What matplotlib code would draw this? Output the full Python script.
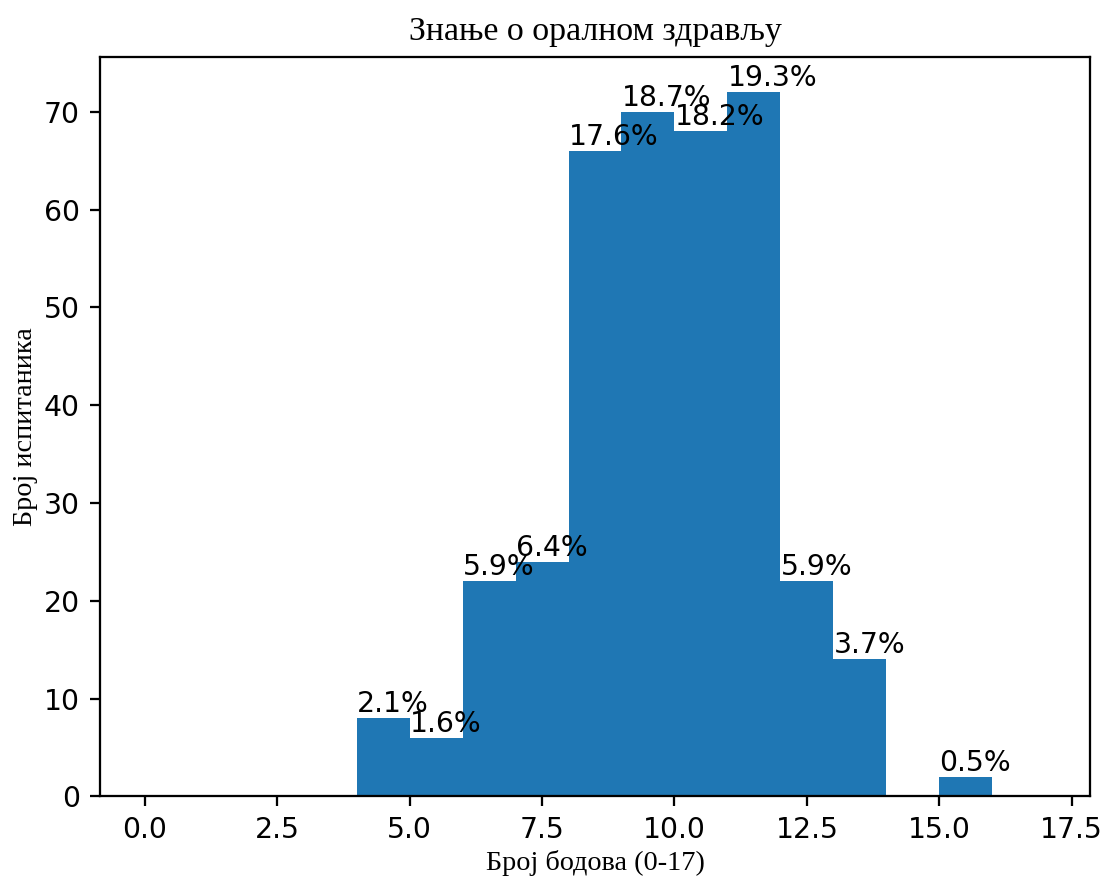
import numpy as np
import matplotlib.pyplot as plt

# bin lower edges and counts
bin_edges = list(range(0, 18))
counts = [0, 0, 0, 0, 8, 6, 22, 24, 66, 70, 68, 72, 22, 14, 0, 2, 0]

title = 'Знање о оралном здрављу'
xlabel = 'Број бодова (0-17)'
ylabel = 'Број испитаника'

DPI = 203
fig = plt.figure(figsize=(1108 / DPI, 879 / DPI), dpi=DPI)
ax = fig.add_axes([0.090, 0.094, 0.894, 0.841])

lefts = np.array(bin_edges[:-1])
ax.bar(lefts, counts, width=1, align='edge', color='#1f77b4')

total = sum(counts)
for x, c in zip(lefts, counts):
    if c > 0:
        ax.text(x, c, f'{c / total * 100:.1f}%', ha='left', va='bottom', fontsize=10)

ax.set_title(title, fontfamily='Liberation Serif', fontsize=12)
ax.set_xlabel(xlabel, fontfamily='Liberation Serif', fontsize=10, labelpad=2)
ax.set_ylabel(ylabel, fontfamily='Liberation Serif', fontsize=10, labelpad=2)
ax.set_xlim(-0.85, 17.85)

fig.savefig('out.png', dpi=DPI)
